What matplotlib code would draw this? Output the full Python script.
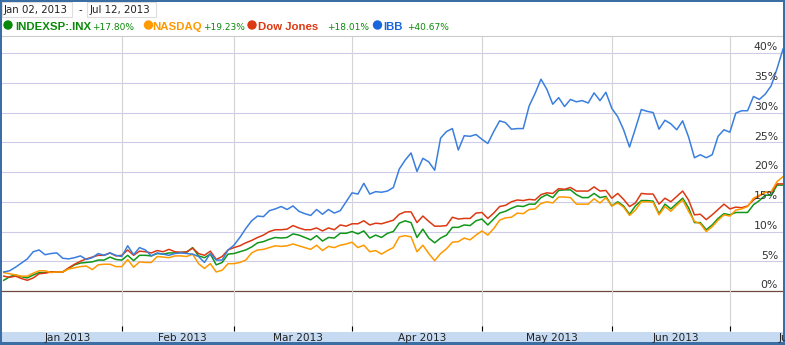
import numpy as np
import matplotlib
matplotlib.use('Agg')
import matplotlib.pyplot as plt
from matplotlib.patches import Rectangle, Circle
from matplotlib.transforms import blended_transform_factory

# % change since Jan 02, 2013, one value per trading day (Jan 02 .. Jul 12)
sp500 = [1.8, 2.4, 2.7, 2.4, 2.2, 2.7, 3.1, 3.1, 3.2, 3.2, 3.2, 3.8, 4.4, 4.7, 4.8, 4.9, 5.2, 5.2, 5.7, 5.3, 5.2, 6.0, 5.1,
         6.0, 6.0, 5.9, 6.3, 6.2, 6.4, 6.4, 6.5, 6.5, 7.3, 5.9, 5.6, 6.2, 4.4, 4.8, 6.2, 6.3, 6.6, 6.9, 7.4, 8.1,
         8.3, 8.7, 9.0, 8.9, 9.0, 9.6, 9.4, 9.0, 8.6, 9.3, 8.4, 9.0, 8.9, 9.7, 9.7, 10.0, 9.6, 10.1, 8.9, 9.4, 9.0, 9.7,
         10.0, 11.4, 11.8, 11.5, 9.0, 10.4, 8.9, 8.1, 8.9, 9.4, 10.7, 10.7, 11.1, 11.0, 11.8, 12.1, 11.1, 12.1, 13.1, 13.4, 13.9, 14.3,
         14.2, 14.6, 14.6, 15.7, 16.2, 15.7, 16.9, 17.0, 17.0, 16.2, 15.7, 15.7, 16.4, 15.7, 15.9, 14.3, 15.0, 14.3, 12.9, 14.3, 15.2, 15.2,
         15.1, 13.0, 14.6, 13.8, 14.7, 15.6, 14.0, 11.5, 11.5, 10.3, 11.1, 12.2, 13.0, 12.8, 13.2, 13.2, 13.2, 14.5, 15.2, 16.1, 16.1, 17.8, 17.80]

nasdaq = [3.1, 2.9, 2.7, 2.5, 2.5, 3.0, 3.4, 3.4, 3.1, 3.2, 3.2, 3.7, 3.9, 4.1, 4.2, 3.6, 4.4, 4.5, 4.5, 4.1, 4.1, 5.3, 4.0,
          4.9, 4.8, 4.8, 5.8, 5.7, 5.6, 5.9, 5.9, 5.8, 6.2, 4.6, 3.8, 4.6, 3.2, 3.5, 4.6, 4.6, 4.8, 5.2, 6.4, 6.9,
          7.0, 7.3, 7.6, 7.5, 7.6, 7.9, 7.6, 7.3, 7.0, 7.7, 6.8, 7.5, 7.3, 7.7, 7.9, 8.2, 7.3, 7.7, 6.6, 6.8, 6.2, 6.8,
          7.3, 9.1, 9.3, 9.1, 6.6, 7.7, 6.3, 5.1, 6.3, 7.1, 8.2, 8.3, 8.9, 8.6, 9.4, 10.1, 9.4, 10.5, 11.9, 12.3, 12.4, 13.1,
          13.0, 13.7, 13.8, 14.7, 15.0, 14.8, 15.8, 15.8, 15.7, 14.6, 14.6, 14.6, 15.5, 14.8, 15.7, 14.3, 14.8, 14.1, 12.7, 13.6, 15.0, 15.0,
          14.9, 12.8, 14.2, 13.4, 14.4, 15.3, 13.4, 11.7, 11.3, 10.0, 10.8, 11.9, 12.8, 12.6, 13.6, 13.8, 14.2, 15.6, 16.1, 16.6, 16.7, 18.4, 19.23]

dow = [2.5, 2.3, 2.5, 2.1, 1.8, 2.2, 2.9, 3.0, 3.2, 3.2, 3.2, 3.9, 4.5, 5.0, 5.4, 5.7, 6.0, 6.0, 6.4, 5.9, 6.0, 6.9, 6.0,
       6.7, 6.6, 6.4, 6.8, 6.6, 7.0, 6.6, 6.5, 6.6, 7.2, 6.3, 6.0, 6.7, 5.3, 5.8, 6.9, 7.3, 7.6, 8.1, 8.5, 9.0,
       9.4, 10.0, 10.3, 10.3, 10.4, 11.0, 10.6, 10.3, 10.3, 10.6, 10.1, 10.6, 10.3, 11.1, 10.9, 11.3, 11.3, 11.8, 11.1, 11.4, 11.3, 11.6,
       11.9, 12.9, 13.3, 13.3, 11.5, 12.6, 11.7, 10.9, 10.9, 11.0, 12.4, 12.1, 12.2, 12.2, 13.1, 13.2, 12.2, 13.1, 14.2, 14.4, 15.0, 15.3,
       15.2, 15.4, 15.3, 16.2, 16.5, 16.4, 17.2, 17.1, 17.4, 16.8, 16.8, 16.8, 17.5, 16.8, 16.9, 15.6, 16.4, 15.4, 14.2, 14.8, 16.4, 16.3,
       16.3, 14.6, 15.6, 15.0, 15.9, 16.8, 15.3, 12.8, 12.9, 12.0, 12.8, 13.7, 14.6, 13.8, 14.1, 14.0, 14.3, 15.3, 16.0, 16.6, 16.6, 18.0, 18.01]

ibb = [3.2, 3.4, 4.0, 4.7, 5.4, 6.6, 6.9, 6.1, 6.3, 6.4, 5.5, 5.4, 5.6, 5.9, 5.3, 5.6, 6.3, 6.0, 6.4, 6.0, 5.8, 7.6, 6.1,
       7.3, 6.9, 5.9, 6.4, 6.2, 6.0, 6.3, 6.4, 6.3, 6.2, 5.8, 4.8, 6.3, 5.2, 5.2, 6.9, 7.7, 9.0, 10.5, 11.8, 12.6,
       12.5, 13.5, 13.8, 14.2, 13.7, 14.3, 13.4, 13.0, 12.7, 13.7, 12.9, 13.7, 13.1, 13.5, 15.0, 16.5, 16.3, 18.1, 16.3, 16.7, 16.6, 16.8,
       17.4, 20.5, 22.0, 23.2, 20.1, 22.3, 21.7, 20.3, 25.7, 26.8, 27.3, 23.7, 26.1, 26.0, 26.3, 25.5, 24.8, 26.8, 28.6, 28.3, 27.2, 27.3,
       27.3, 31.1, 33.2, 35.6, 33.9, 31.4, 32.5, 31.0, 32.2, 31.8, 32.0, 31.6, 33.3, 32.0, 33.4, 30.7, 29.3, 27.1, 24.2, 27.3, 30.5, 30.2,
       30.0, 27.2, 28.7, 28.1, 27.1, 28.6, 25.9, 22.4, 22.9, 22.4, 22.9, 26.0, 27.1, 26.7, 29.9, 30.3, 30.3, 32.7, 32.2, 33.1, 34.5, 37.4, 40.67]

names = ['INDEXSP:.INX', 'NASDAQ', 'Dow Jones', 'IBB']
changes = ['+17.80%', '+19.23%', '+18.01%', '+40.67%']
colors = ['#109618', '#ff9900', '#dc3912', '#3a7fde']
legend_colors = ['#0a8a0a', '#ff9900', '#dc3912', '#1a66dd']

# trading-day index where each month begins (Jul end is past the chart)
month_labels = ['Jan 2013', 'Feb 2013', 'Mar 2013', 'Apr 2013', 'May 2013', 'Jun 2013', 'Jul 2013']
month_starts = [0, 20, 39, 59, 81, 103, 123]
month_ends = [20, 39, 59, 81, 103, 123, 145]

y_levels = [0, 5, 10, 15, 20, 25, 30, 35, 40]

W, H = 785, 345
fig = plt.figure(figsize=(W / 100, H / 100), dpi=100)
fig.patch.set_facecolor('white')

ax = fig.add_axes([2 / W, 14 / H, 781 / W, 295 / H])
days = np.arange(len(ibb))

for lvl in y_levels:
    if lvl == 0:
        ax.axhline(lvl, color='#6e4a40', lw=0.9, zorder=1)
    else:
        ax.axhline(lvl, color='#ccccea', lw=0.8, zorder=1)
for m in month_starts[1:]:
    ax.axvline(m, color='#d4d4d4', lw=0.8, zorder=1)

zorders = [2, 4, 3, 5]
for vals, c, z in zip([sp500, nasdaq, dow, ibb], colors, zorders):
    ax.plot(days, vals, color=c, lw=1.1, zorder=z, solid_joinstyle='round')

ax.set_xlim(-0.29, 132.0)
ax.set_ylim(-6.72, 42.86)
ax.set_xticks(month_starts[1:])
ax.set_yticks([])
ax.tick_params(axis='x', direction='in', length=3.4, width=0.8, color='black', labelbottom=False)
for side in ['left', 'right', 'bottom']:
    ax.spines[side].set_visible(False)
ax.spines['top'].set_color('#cccccc')
ax.spines['top'].set_linewidth(0.8)

ylab = blended_transform_factory(ax.transAxes, ax.transData)
for lvl in y_levels:
    ax.text(0.9936, lvl + 0.1, f'{lvl}%', transform=ylab, ha='right', va='bottom',
            fontsize=7.8, color='#333333', family='DejaVu Sans', zorder=6)

# overlay in pixel coordinates for header, strip and border
deco = fig.add_axes([0, 0, 1, 1], zorder=10)
deco.set_xlim(0, W)
deco.set_ylim(H, 0)
deco.axis('off')

deco.add_patch(Rectangle((0, 331.5), W, 10.5, facecolor='#c6daf2', edgecolor='none'))
mtrans = blended_transform_factory(ax.transData, deco.transData)
for lab, a, b in zip(month_labels, month_starts, month_ends):
    deco.text((a + b) / 2 + 0.8, 341, lab, transform=mtrans, ha='center', va='baseline',
              fontsize=7.6, color='#222222', family='DejaVu Sans')

# date range boxes
deco.add_patch(Rectangle((2, 2), 70, 15, facecolor='white', edgecolor='#dddddd', lw=0.8))
deco.add_patch(Rectangle((87, 2), 69, 15, facecolor='white', edgecolor='#dddddd', lw=0.8))
deco.text(4, 13, 'Jan 02, 2013', fontsize=7.4, color='#222222', family='DejaVu Sans', va='baseline')
deco.text(80, 13, '-', fontsize=7.4, color='#222222', family='DejaVu Sans', va='baseline', ha='center')
deco.text(90, 13, 'Jul 12, 2013', fontsize=7.4, color='#222222', family='DejaVu Sans', va='baseline')

# legend row
dot_x = [8, 148.5, 252, 377.5]
name_x = [15, 152.5, 258, 383]
chg_x = [92, 203, 327, 407]
for i in range(4):
    deco.add_patch(Circle((dot_x[i], 25), 4.7, facecolor=legend_colors[i], edgecolor='none'))
    deco.text(name_x[i], 29.5, names[i], fontsize=8.2, fontweight='bold', color=legend_colors[i],
              family='Liberation Sans', va='baseline')
    deco.text(chg_x[i], 29.5, changes[i], fontsize=6.5, color='#0a8a0a',
              family='DejaVu Sans', va='baseline')

# dark blue frame
edge = '#3a6ea5'
deco.add_patch(Rectangle((0, 0), W, 2, facecolor=edge, edgecolor='none'))
deco.add_patch(Rectangle((0, H - 3.3), W, 3.3, facecolor=edge, edgecolor='none'))
deco.add_patch(Rectangle((0, 0), 2.3, H, facecolor=edge, edgecolor='none'))
deco.add_patch(Rectangle((W - 2.3, 0), 2.3, H, facecolor=edge, edgecolor='none'))

fig.savefig('out.png', dpi=100)
